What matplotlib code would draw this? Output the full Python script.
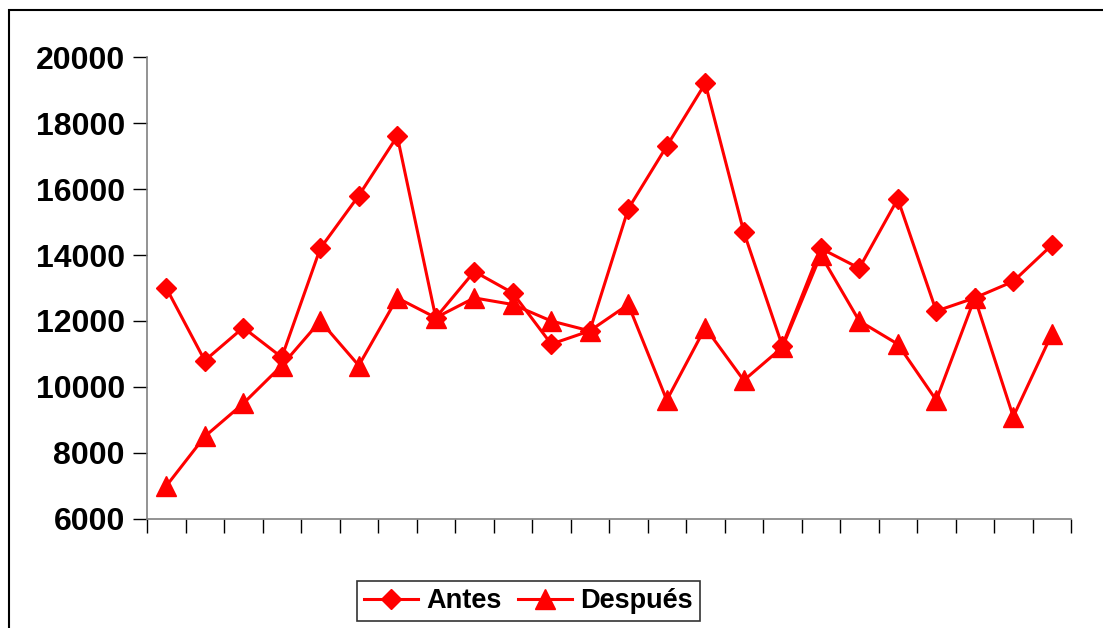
import matplotlib.pyplot as plt
from matplotlib.patches import Rectangle

# Series values per period
antes = [13000, 10800, 11800, 10900, 14200, 15800, 17600, 12100, 13500, 12850,
         11300, 11700, 15400, 17300, 19200, 14700, 11250, 14200, 13600, 15700,
         12300, 12700, 13200, 14300]
despues = [7000, 8500, 9500, 10650, 12000, 10650, 12700, 12100, 12700, 12500,
           12000, 11700, 12500, 9600, 11800, 10200, 11200, 14000, 12000, 11300,
           9600, 12700, 9100, 11600]
y_ticks = [6000, 8000, 10000, 12000, 14000, 16000, 18000, 20000]

plt.rcParams['font.family'] = ['Liberation Sans', 'DejaVu Sans']

fig = plt.figure(figsize=(11.03, 6.28), dpi=100)
ax = fig.add_axes([0.1333, 0.1736, 0.8377, 0.7356])

x = list(range(len(antes)))
ax.plot(x, antes, color='#ff0000', lw=2.2, marker='D', ms=10, label='Antes')
ax.plot(x, despues, color='#ff0000', lw=2.2, marker='^', ms=14, label='Después')

ax.set_xlim(-0.5, len(antes) - 0.5)
ax.set_ylim(6000, 20000)
ax.set_yticks(y_ticks)
ax.set_yticklabels([str(v) for v in y_ticks], fontsize=23, fontweight='bold')

# ticks sit between categories
ax.set_xticks([i - 0.5 for i in range(len(antes) + 1)])
ax.set_xticklabels([])
ax.tick_params(axis='both', direction='out', length=10, width=1, color='black')
ax.tick_params(axis='y', pad=6)

for side in ['top', 'right']:
    ax.spines[side].set_visible(False)
for side in ['left', 'bottom']:
    ax.spines[side].set_color('#808080')
    ax.spines[side].set_linewidth(1.2)

leg = fig.legend(loc='center', bbox_to_anchor=(0.479, 0.043), ncol=2,
                 prop={'size': 19.5, 'weight': 'bold'}, frameon=True,
                 fancybox=False, edgecolor='black', handlelength=2.0,
                 columnspacing=0.6, handletextpad=0.3, borderpad=0.25,
                 borderaxespad=0)
leg.get_frame().set_linewidth(1.2)

# outer chart frame
fig.patches.append(Rectangle((9 / 1103, -0.05), 1.1, 1 - 10 / 628 + 0.05,
                             transform=fig.transFigure, fill=False,
                             edgecolor='black', lw=1.5))

fig.savefig('out.png', dpi=100)
